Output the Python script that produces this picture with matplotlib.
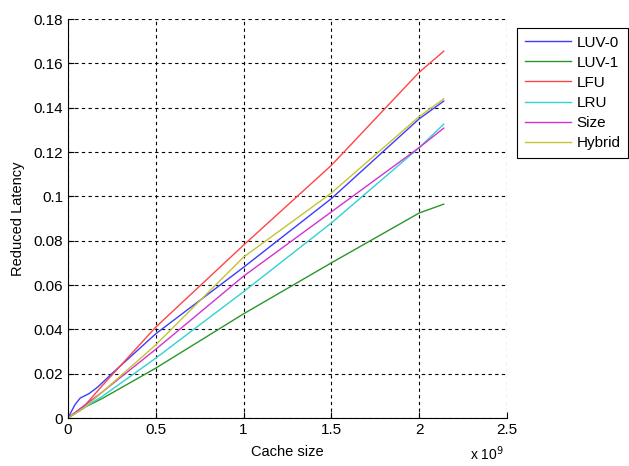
import matplotlib
matplotlib.use('Agg')
import matplotlib.pyplot as plt
from matplotlib.ticker import FuncFormatter

plt.rcParams['font.family'] = ['Liberation Sans', 'DejaVu Sans']

# cache size (bytes) and reduced latency per policy
cache_luv0 = [0, 0.02e9, 0.04e9, 0.07e9, 0.12e9, 0.17e9, 0.25e9, 0.5e9, 1.0e9, 1.5e9, 2.0e9, 2.14e9]
luv0 = [0, 0.003, 0.006, 0.009, 0.011, 0.014, 0.020, 0.038, 0.068, 0.099, 0.135, 0.143]

cache = [0, 0.1e9, 0.2e9, 0.5e9, 1.0e9, 1.5e9, 2.0e9, 2.14e9]
luv1 = [0, 0.005, 0.009, 0.0225, 0.047, 0.070, 0.0925, 0.0965]
lfu = [0, 0.006, 0.015, 0.041, 0.078, 0.114, 0.156, 0.1655]
lru = [0, 0.005, 0.010, 0.027, 0.057, 0.088, 0.122, 0.1326]
size = [0, 0.006, 0.012, 0.031, 0.064, 0.093, 0.122, 0.1308]
hybrid = [0, 0.005, 0.012, 0.033, 0.0726, 0.1015, 0.136, 0.144]

xticks = [0, 0.5e9, 1.0e9, 1.5e9, 2.0e9, 2.5e9]
yticks = [0, 0.02, 0.04, 0.06, 0.08, 0.1, 0.12, 0.14, 0.16, 0.18]

fig = plt.figure(figsize=(6.29, 4.66), dpi=100)
ax = fig.add_axes([0.108, 0.103, 0.698, 0.856])

ax.plot(cache_luv0, luv0, color='#3c3cff', lw=1, label='LUV-0')
ax.plot(cache, luv1, color='#2a962a', lw=1, label='LUV-1')
ax.plot(cache, lfu, color='#ff4545', lw=1, label='LFU')
ax.plot(cache, lru, color='#30d2d2', lw=1, label='LRU')
ax.plot(cache, size, color='#d232d2', lw=1, label='Size')
ax.plot(cache, hybrid, color='#c4c432', lw=1, label='Hybrid')

ax.set_xlim(0, 2.5e9)
ax.set_ylim(0, 0.18)
ax.set_xticks(xticks)
ax.set_yticks(yticks)
ax.xaxis.set_major_formatter(FuncFormatter(lambda v, p: '%g' % (v / 1e9)))
ax.yaxis.set_major_formatter(FuncFormatter(lambda v, p: '%g' % v))
ax.tick_params(direction='in', length=4, labelsize=11, colors='black')
ax.grid(True, color='black', linestyle=(0, (3, 3)), linewidth=0.8)
ax.spines['top'].set_visible(False)
ax.spines['right'].set_visible(False)

ax.set_xlabel('Cache size', fontsize=10.5, labelpad=6)
ax.set_ylabel('Reduced Latency', fontsize=10.5, labelpad=6)
fig.text(0.747, 0.012, r'x 10$^{9}$', fontsize=10)

leg = fig.legend(loc='upper left', bbox_to_anchor=(0.822, 0.94), fontsize=11,
                 fancybox=False, edgecolor='black', framealpha=1,
                 handlelength=3.0, handletextpad=0.4, borderpad=0.5,
                 borderaxespad=0, labelspacing=0.4)
leg.get_frame().set_linewidth(0.8)

fig.savefig('out.png', dpi=100)
